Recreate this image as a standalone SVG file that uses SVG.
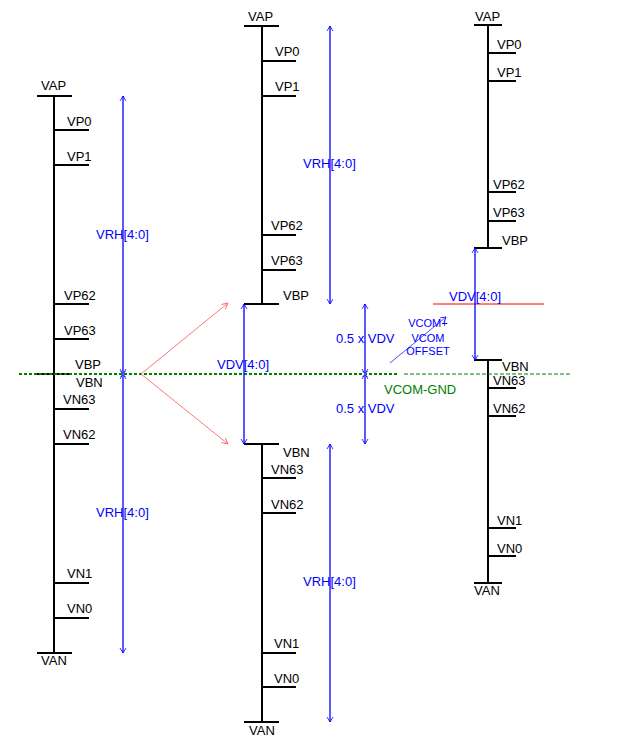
<svg xmlns="http://www.w3.org/2000/svg" width="622" height="742" viewBox="0 0 622 742">
<style>
.k{stroke:#000;stroke-width:1.3;fill:none;shape-rendering:crispEdges}
.t{font-family:"Liberation Sans",Arial,sans-serif;font-size:13px;fill:#000}
.b{font-family:"Liberation Sans",Arial,sans-serif;font-size:13px;fill:#0000ff}
.s{font-family:"Liberation Sans",Arial,sans-serif;font-size:11px;fill:#0000ff;text-anchor:middle}
.g{font-family:"Liberation Sans",Arial,sans-serif;font-size:13px;fill:#008000}
.ba{stroke:#0000ff;stroke-width:1.3;fill:none;marker-start:url(#ab);marker-end:url(#ab)}
.ra{stroke:#ff6666;stroke-width:0.9;fill:none;marker-end:url(#ar)}
.x{stroke:#6a6aff;stroke-width:0.8;fill:none}
</style>
<defs>
<marker id="ab" viewBox="-6 -4 7 8" markerWidth="7" markerHeight="8" refX="0" refY="0" orient="auto-start-reverse" markerUnits="userSpaceOnUse"><path d="M-5,-3 L0,0 L-5,3" fill="none" stroke="#0000ff" stroke-width="0.8"/></marker>
<marker id="ar" viewBox="-8 -4 9 8" markerWidth="9" markerHeight="8" refX="0" refY="0" orient="auto" markerUnits="userSpaceOnUse"><path d="M-6,-3 L0,0 L-6,3" fill="none" stroke="#ff6666" stroke-width="0.9"/></marker>
</defs>

<g id="left-column">
<path class="k" d="M54,96V653 M37,96H72 M37,653H72 M37,374H72 M54,130H89 M54,165H89 M54,304H89 M54,339H89 M54,409H89 M54,444H89 M54,583H89 M54,618H89"/>
<text class="t" x="41" y="90">VAP</text>
<text class="t" x="67" y="126">VP0</text>
<text class="t" x="67" y="161">VP1</text>
<text class="t" x="64" y="300">VP62</text>
<text class="t" x="64" y="335">VP63</text>
<text class="t" x="75" y="369">VBP</text>
<text class="t" x="76" y="387">VBN</text>
<text class="t" x="63" y="404">VN63</text>
<text class="t" x="63" y="439">VN62</text>
<text class="t" x="67" y="578">VN1</text>
<text class="t" x="67" y="613">VN0</text>
<text class="t" x="41" y="665">VAN</text>
</g>

<g id="middle-column">
<path class="k" d="M262,26V304 M244,26H279 M244,304H279 M262,61H296 M262,96H296 M262,235H296 M262,270H296 M262,444V722 M244,444H279 M244,722H279 M262,478H296 M262,513H296 M262,653H296 M262,687H296"/>
<text class="t" x="248" y="21">VAP</text>
<text class="t" x="275" y="56">VP0</text>
<text class="t" x="275" y="91">VP1</text>
<text class="t" x="271" y="230">VP62</text>
<text class="t" x="271" y="265">VP63</text>
<text class="t" x="283" y="300">VBP</text>
<text class="t" x="283" y="457">VBN</text>
<text class="t" x="271" y="474">VN63</text>
<text class="t" x="271" y="509">VN62</text>
<text class="t" x="274" y="648">VN1</text>
<text class="t" x="274" y="683">VN0</text>
<text class="t" x="249" y="735">VAN</text>
</g>

<g id="right-column">
<path class="k" d="M488,25V248 M474,25H502 M474,248H502 M488,53H516 M488,81H516 M488,192H516 M488,221H516 M488,360V583 M474,360H502 M474,583H502 M488,388H516 M488,416H516 M488,528H516 M488,556H516"/>
<text class="t" x="475" y="21">VAP</text>
<text class="t" x="497" y="49">VP0</text>
<text class="t" x="497" y="77">VP1</text>
<text class="t" x="493" y="189">VP62</text>
<text class="t" x="493" y="217">VP63</text>
<text class="t" x="502" y="245">VBP</text>
<text class="t" x="502" y="371">VBN</text>
<text class="t" x="493" y="385">VN63</text>
<text class="t" x="493" y="413">VN62</text>
<text class="t" x="497" y="525">VN1</text>
<text class="t" x="497" y="553">VN0</text>
<text class="t" x="474" y="595">VAN</text>
</g>

<g id="vcom-lines">
<line x1="19" y1="374" x2="398" y2="374" stroke="#008000" stroke-width="2" stroke-dasharray="3,2"/>
<line x1="404" y1="374" x2="572" y2="374" stroke="#008000" stroke-width="1" stroke-dasharray="4,2"/>
<line x1="433" y1="304" x2="544" y2="304" stroke="#ff0000" stroke-width="1"/>
<text class="g" x="384" y="394">VCOM-GND</text>
</g>

<g id="connectors">
<line class="ba" x1="123" y1="374" x2="123" y2="96"/>
<line class="ba" x1="123" y1="374" x2="123" y2="653"/>
<path class="x" d="M120,371L126,377M126,371L120,377"/>
<line class="ba" x1="330" y1="26" x2="330" y2="304"/>
<line class="ba" x1="330" y1="444" x2="330" y2="722"/>
<line class="ba" x1="244" y1="304" x2="244" y2="444"/>
<line class="ba" x1="365" y1="374" x2="365" y2="304"/>
<line class="ba" x1="365" y1="374" x2="365" y2="444"/>
<path class="x" d="M362,371L368,377M368,371L362,377"/>
<line class="ba" x1="475" y1="248" x2="475" y2="360"/>
<line x1="390" y1="363" x2="446" y2="317" stroke="#0000ff" stroke-width="0.7" marker-end="url(#ab)"/>
<line class="ra" x1="141" y1="374" x2="228" y2="303"/>
<line class="ra" x1="141" y1="374" x2="228" y2="444"/>
</g>

<g id="labels">
<text class="b" x="96" y="239">VRH[4:0]</text>
<text class="b" x="96" y="517">VRH[4:0]</text>
<text class="b" x="303" y="168">VRH[4:0]</text>
<text class="b" x="303" y="586">VRH[4:0]</text>
<text class="b" x="217" y="369">VDV[4:0]</text>
<text class="b" x="449" y="301">VDV[4:0]</text>
<text class="b" x="336" y="343">0.5 x VDV</text>
<text class="b" x="336" y="413">0.5 x VDV</text>
<text class="s" x="428" y="327">VCOM+</text>
<text class="s" x="428" y="342">VCOM</text>
<text class="s" x="428" y="355">OFFSET</text>
</g>
</svg>
